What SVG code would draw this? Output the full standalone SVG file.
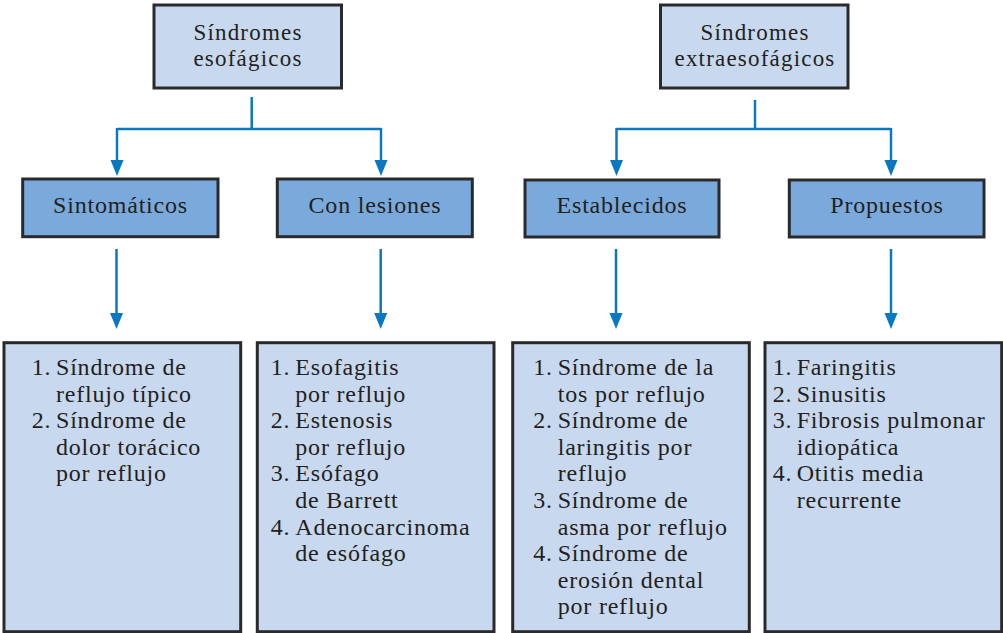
<svg xmlns="http://www.w3.org/2000/svg" width="1003" height="633" viewBox="0 0 1003 633">
<style>
.box{stroke:#2a2a2a;stroke-width:3}
.light{fill:#c8d8ee}
.mid{fill:#7aaadc}
text{font-family:"Liberation Serif","Times New Roman",serif;font-size:24px;fill:#231f20;letter-spacing:0.8px}
.c{text-anchor:middle}
.t{font-size:23px;letter-spacing:1.2px}
.conn{fill:none;stroke:#0a78c0;stroke-width:2.5}
</style>
<defs>
<marker id="ah" markerUnits="userSpaceOnUse" viewBox="0 -7 16 14" markerWidth="16" markerHeight="14" refX="1" refY="0" orient="auto">
<path d="M0,-6.5 L16,0 L0,6.5 z" fill="#0a78c0"/>
</marker>
</defs>
<rect width="1003" height="633" fill="#ffffff"/>
<g id="connectors">
<path class="conn" d="M251.7,97 V129"/>
<path class="conn" d="M117,129 H381"/>
<path class="conn" d="M117,128 V161" marker-end="url(#ah)"/>
<path class="conn" d="M381,128 V161" marker-end="url(#ah)"/>
<path class="conn" d="M755,100 V129"/>
<path class="conn" d="M616.5,129 H891"/>
<path class="conn" d="M616.5,128 V161" marker-end="url(#ah)"/>
<path class="conn" d="M891,128 V161" marker-end="url(#ah)"/>
<path class="conn" d="M116.5,249 V314" marker-end="url(#ah)"/>
<path class="conn" d="M380.7,249 V314" marker-end="url(#ah)"/>
<path class="conn" d="M616,249 V314" marker-end="url(#ah)"/>
<path class="conn" d="M891,249 V314" marker-end="url(#ah)"/>
</g>
<g id="esofagicos">
<rect class="box light" x="154" y="5" width="187.5" height="83"/>
<text class="c t" x="248" y="39.5">Síndromes</text>
<text class="c t" x="248" y="65.5">esofágicos</text>
</g>
<g id="extraesofagicos">
<rect class="box light" x="660.5" y="5" width="187.5" height="83"/>
<text class="c t" x="755" y="39.5">Síndromes</text>
<text class="c t" x="755" y="65.5">extraesofágicos</text>
</g>
<g id="sintomaticos">
<rect class="box mid" x="22.7" y="179" width="195.3" height="57.7"/>
<text class="c" x="120.5" y="213.3">Sintomáticos</text>
</g>
<g id="conlesiones">
<rect class="box mid" x="277.3" y="179" width="195" height="57.7"/>
<text class="c" x="375" y="213.3">Con lesiones</text>
</g>
<g id="establecidos">
<rect class="box mid" x="525" y="180" width="194" height="57"/>
<text class="c" x="622" y="213.3">Establecidos</text>
</g>
<g id="propuestos">
<rect class="box mid" x="789.3" y="180" width="194.7" height="57"/>
<text class="c" x="887" y="213.3">Propuestos</text>
</g>
<g id="lista-sintomaticos">
<rect class="box light" x="4" y="342.7" width="236.7" height="289"/>
<text x="31.7" y="375">1.</text><text x="56" y="375">Síndrome de</text>
<text x="56" y="401.6">reflujo típico</text>
<text x="31.7" y="428.2">2.</text><text x="56" y="428.2">Síndrome de</text>
<text x="56" y="454.8">dolor torácico</text>
<text x="56" y="481.4">por reflujo</text>
</g>
<g id="lista-lesiones">
<rect class="box light" x="257.3" y="342.7" width="236.7" height="289"/>
<text x="270.7" y="375">1.</text><text x="295.3" y="375">Esofagitis</text>
<text x="295.3" y="401.6">por reflujo</text>
<text x="270.7" y="428.2">2.</text><text x="295.3" y="428.2">Estenosis</text>
<text x="295.3" y="454.8">por reflujo</text>
<text x="270.7" y="481.4">3.</text><text x="295.3" y="481.4">Esófago</text>
<text x="295.3" y="508">de Barrett</text>
<text x="270.7" y="534.6">4.</text><text x="295.3" y="534.6">Adenocarcinoma</text>
<text x="295.3" y="561.2">de esófago</text>
</g>
<g id="lista-establecidos">
<rect class="box light" x="512.7" y="342.7" width="236.6" height="289"/>
<text x="533.3" y="375">1.</text><text x="557.7" y="375">Síndrome de la</text>
<text x="557.7" y="401.6">tos por reflujo</text>
<text x="533.3" y="428.2">2.</text><text x="557.7" y="428.2">Síndrome de</text>
<text x="557.7" y="454.8">laringitis por</text>
<text x="557.7" y="481.4">reflujo</text>
<text x="533.3" y="508">3.</text><text x="557.7" y="508">Síndrome de</text>
<text x="557.7" y="534.6">asma por reflujo</text>
<text x="533.3" y="561.2">4.</text><text x="557.7" y="561.2">Síndrome de</text>
<text x="557.7" y="587.8">erosión dental</text>
<text x="557.7" y="614.4">por reflujo</text>
</g>
<g id="lista-propuestos">
<rect class="box light" x="765" y="342.7" width="236.7" height="289"/>
<text x="772.7" y="375">1.</text><text x="796.7" y="375">Faringitis</text>
<text x="772.7" y="401.6">2.</text><text x="796.7" y="401.6">Sinusitis</text>
<text x="772.7" y="428.2">3.</text><text x="796.7" y="428.2">Fibrosis pulmonar</text>
<text x="796.7" y="454.8">idiopática</text>
<text x="772.7" y="481.4">4.</text><text x="796.7" y="481.4">Otitis media</text>
<text x="796.7" y="508">recurrente</text>
</g>
</svg>
